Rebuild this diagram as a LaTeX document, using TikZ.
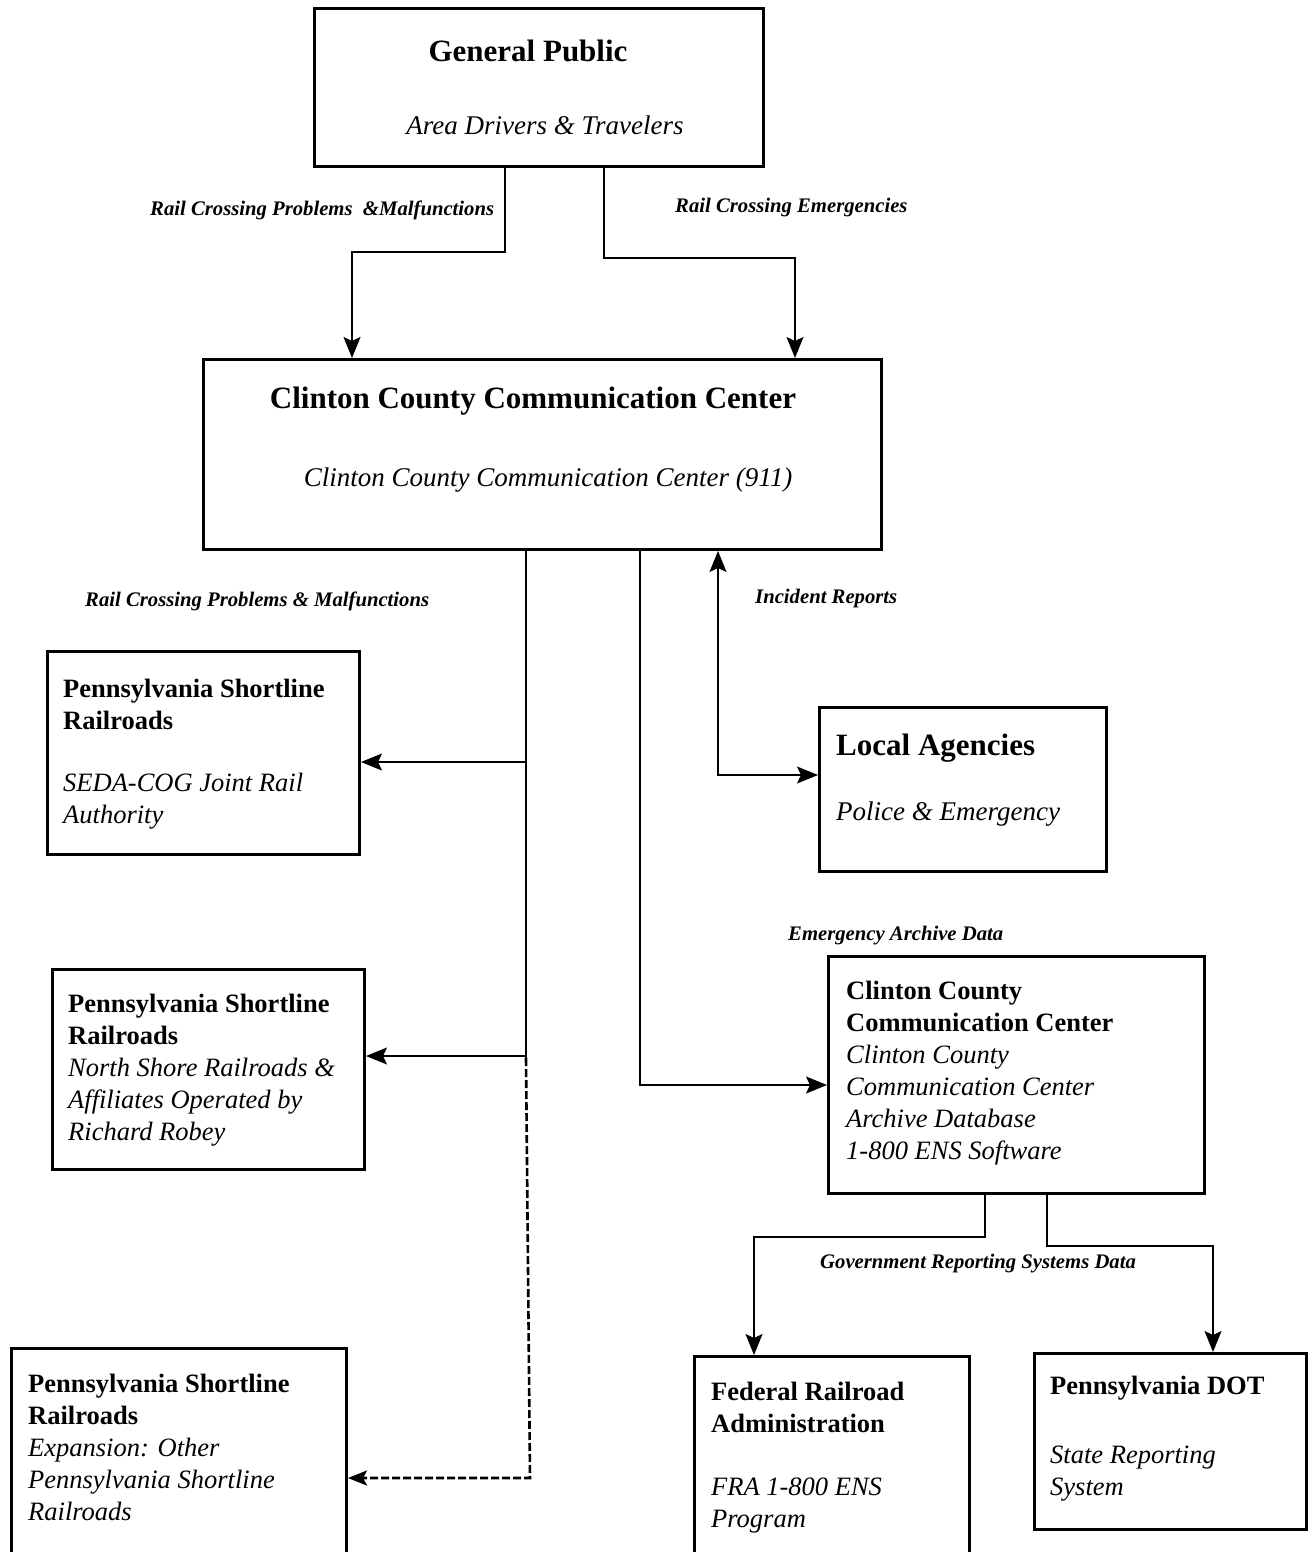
\documentclass[tikz,border=0pt]{standalone}
\usepackage{fontspec}
\setmainfont{Liberation Serif}
\usetikzlibrary{arrows.meta, positioning}

\tikzset{
  box/.style={draw, line width=3pt, anchor=north west, inner sep=0pt},
  title/.style={anchor=base, inner sep=0pt, font=\fontsize{31}{36}\selectfont\bfseries},
  subtitle/.style={anchor=base, inner sep=0pt, font=\fontsize{27}{32}\selectfont\itshape},
  txt/.style={anchor=north west, inner sep=0pt, align=left, font=\fontsize{26.5}{32}\selectfont},
  lbl/.style={anchor=west, inner sep=0pt, font=\fontsize{20.7}{24}\selectfont\bfseries\itshape},
  tip/.style={-{Stealth[length=21pt,width=17pt,inset=4pt]}},
  link/.style={line width=1.3pt, tip},
  twoway/.style={line width=1.3pt, {Stealth[length=21pt,width=17pt,inset=4pt]}-{Stealth[length=21pt,width=17pt,inset=4pt]}},
  future/.style={line width=2.6pt, dash pattern=on 8pt off 3pt, -{Stealth[length=19pt,width=15pt,inset=4pt]}},
}
\newcommand{\firstline}{\rule{0pt}{20pt}}

\begin{document}
\begin{tikzpicture}[x=1pt, y=-1pt]
    \useasboundingbox (0,0) rectangle (1313,1552);

    % boxes
    \node[box, minimum width=449pt, minimum height=158pt] (public) at (313,7) {};
    \node[box, minimum width=678pt, minimum height=190pt] (center) at (202,358) {};
    \node[box, minimum width=312pt, minimum height=203pt] (seda) at (46,650) {};
    \node[box, minimum width=287pt, minimum height=164pt] (local) at (818,706) {};
    \node[box, minimum width=312pt, minimum height=200pt] (north shore) at (51,968) {};
    \node[box, minimum width=376pt, minimum height=237pt] (archive) at (827,955) {};
    \node[box, minimum width=335pt, minimum height=215pt] (expansion) at (10,1347) {};
    \node[box, minimum width=275pt, minimum height=210pt] (fra) at (693,1355) {};
    \node[box, minimum width=272pt, minimum height=176pt] (dot) at (1033,1352) {};

    % box texts
    \node[title] (public title) at (528,62) {General Public};
    \node[subtitle] (public sub) at (545,135) {Area Drivers \& Travelers};
    \node[title] (center title) at (533,408) {Clinton County Communication Center};
    \node[subtitle] (center sub) at (548,486) {Clinton County Communication Center (911)};
    \node[txt] (seda text) at (63,677) {\firstline\textbf{Pennsylvania Shortline}\\\textbf{Railroads}\\[30pt]\textit{SEDA-COG Joint Rail}\\\textit{Authority}};
    \node[title, anchor=base west] (local title) at (836,755) {Local Agencies};
    \node[subtitle, anchor=base west] (local sub) at (836,820) {Police \& Emergency};
    \node[txt] (north shore text) at (68,992) {\firstline\textbf{Pennsylvania Shortline}\\\textbf{Railroads}\\\textit{North Shore Railroads \&}\\\textit{Affiliates Operated by}\\\textit{Richard Robey}};
    \node[txt] (archive text) at (846,979) {\firstline\textbf{Clinton County}\\\textbf{Communication Center}\\\textit{Clinton County}\\\textit{Communication Center}\\\textit{Archive Database}\\\textit{1-800 ENS Software}};
    \node[txt] (expansion text) at (28,1372) {\firstline\textbf{Pennsylvania Shortline}\\\textbf{Railroads}\\\textit{Expansion: Other}\\\textit{Pennsylvania Shortline}\\\textit{Railroads}};
    \node[txt] (fra text) at (711,1380) {\firstline\textbf{Federal Railroad}\\\textbf{Administration}\\[31pt]\textit{FRA 1-800 ENS}\\\textit{Program}};
    \node[txt] (dot text) at (1050,1374) {\firstline\textbf{Pennsylvania DOT}\\[37pt]\textit{State Reporting}\\\textit{System}};

    % connector labels
    \node[lbl] (problems up) at (150,210) {Rail Crossing Problems \ \&Malfunctions};
    \node[lbl] (emergencies) at (675,208) {Rail Crossing Emergencies};
    \node[lbl] (problems down) at (85,601) {Rail Crossing Problems \& Malfunctions};
    \node[lbl] (incidents) at (755,599) {Incident Reports};
    \node[lbl] (archive data) at (788,936) {Emergency Archive Data};
    \node[lbl] (reporting) at (820,1264) {Government Reporting Systems Data};

    % connectors
    \draw[link] (public.south -| 505,0) -- (505,252) -- (352,252) -- (center.north -| 352,0);
    \draw[link] (public.south -| 604,0) -- (604,258) -- (795,258) -- (center.north -| 795,0);

    \coordinate (trunk end) at (526,1058);
    \draw[line width=1.3pt] (center.south -| 526,0) -- (trunk end);
    \draw[link] (526,762) -- (seda.east |- 0,762);
    \draw[link] (526,1056) -- (north shore.east |- 0,1056);
    \draw[future] (trunk end) -- (530,1478) -- (expansion.east |- 0,1478);

    \draw[twoway] (center.south -| 718,0) -- (718,775) -- (local.west |- 0,775);
    \draw[link] (center.south -| 640,0) -- (640,1085) -- (archive.west |- 0,1085);

    \draw[link] (archive.south -| 985,0) -- (985,1237) -- (754,1237) -- (fra.north -| 754,0);
    \draw[link] (archive.south -| 1047,0) -- (1047,1246) -- (1213,1246) -- (dot.north -| 1213,0);
\end{tikzpicture}
\end{document}
